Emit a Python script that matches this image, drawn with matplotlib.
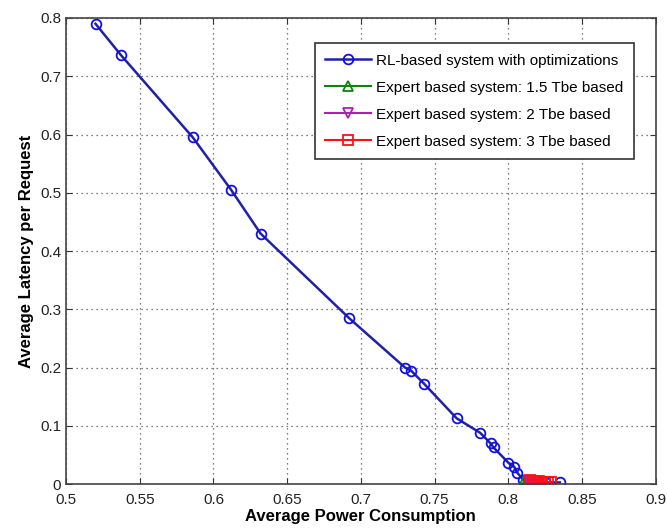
import numpy as np
import matplotlib
matplotlib.use('agg')
import matplotlib.pyplot as plt

plt.rcParams['font.family'] = ['Liberation Sans', 'DejaVu Sans']

# RL-based system points (power, latency)
rl_power = [0.520, 0.537, 0.586, 0.612, 0.632, 0.692, 0.730, 0.734, 0.743, 0.765,
            0.781, 0.788, 0.790, 0.800, 0.804, 0.806, 0.810, 0.815, 0.825, 0.835]
rl_latency = [0.790, 0.737, 0.595, 0.505, 0.430, 0.285, 0.200, 0.195, 0.172, 0.113,
              0.088, 0.070, 0.063, 0.037, 0.030, 0.020, 0.008, 0.004, 0.003, 0.003]

# expert based systems, all bunched near the bottom
exp15_power = [0.811, 0.812, 0.813, 0.814]
exp15_latency = [0.006, 0.004, 0.003, 0.002]
exp2_power = [0.814, 0.815, 0.816, 0.817, 0.818]
exp2_latency = [0.006, 0.004, 0.003, 0.002, 0.001]
exp3_power = [0.815, 0.817, 0.819, 0.821, 0.823, 0.825, 0.827, 0.829]
exp3_latency = [0.007, 0.006, 0.005, 0.005, 0.004, 0.004, 0.003, 0.003]

labels = ['RL-based system with optimizations',
          'Expert based system: 1.5 Tbe based',
          'Expert based system: 2 Tbe based',
          'Expert based system: 3 Tbe based']

fig = plt.figure(figsize=(6.67, 5.28), dpi=100)
ax = fig.add_axes([0.099, 0.083, 0.884, 0.883])

ax.plot(rl_power, rl_latency, '-o', color='#2020a8', lw=1.8, ms=7,
        mfc='none', mec='#1010e0', mew=1.3, label=labels[0])
ax.plot(exp15_power, exp15_latency, '-^', color='#108010', lw=1.5, ms=7,
        mfc='none', mew=1.3, label=labels[1])
ax.plot(exp2_power, exp2_latency, '-v', color='#b020b0', lw=1.5, ms=7,
        mfc='none', mew=1.3, label=labels[2])
ax.plot(exp3_power, exp3_latency, '-s', color='#ff1010', lw=1.5, ms=7,
        mfc='none', mew=1.3, label=labels[3])

ax.set_xlim(0.5, 0.9)
ax.set_ylim(0, 0.8)
ax.set_xticks(np.arange(0.5, 0.901, 0.05))
ax.set_xticklabels(['0.5', '0.55', '0.6', '0.65', '0.7', '0.75', '0.8', '0.85', '0.9'])
ax.set_yticks(np.arange(0, 0.801, 0.1))
ax.set_yticklabels(['0', '0.1', '0.2', '0.3', '0.4', '0.5', '0.6', '0.7', '0.8'])
ax.grid(True, linestyle=(0, (1, 3)), color='#555555', lw=0.9)
ax.tick_params(direction='in', length=4, labelsize=11, top=True, right=True,
               colors='#333333', labelcolor='#222222')
ax.tick_params(axis='x', pad=6)
for s in ax.spines.values():
    s.set_color('#444444')
    s.set_linewidth(1.2)

ax.set_xlabel('Average Power Consumption', fontsize=12, fontweight='bold', labelpad=2)
ax.set_ylabel('Average Latency per Request', fontsize=12, fontweight='bold', labelpad=4)

leg = ax.legend(loc='upper right', bbox_to_anchor=(0.963, 0.946), fontsize=11,
                fancybox=False, edgecolor='#333333', framealpha=1,
                handlelength=3.0, handletextpad=0.3, borderpad=0.7,
                labelspacing=0.85, borderaxespad=0)
leg.get_frame().set_linewidth(1.2)

fig.savefig('out.png', dpi=100)
